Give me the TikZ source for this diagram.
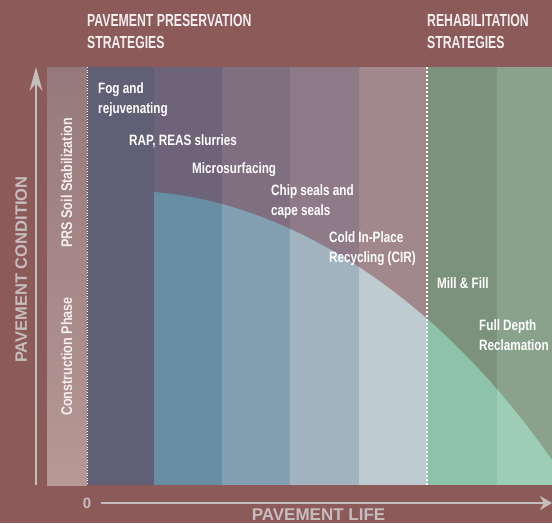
\documentclass[tikz,border=0pt]{standalone}
\usepackage{fontspec}
\usetikzlibrary{arrows.meta}
\newfontfamily\headfont[FakeStretch=0.70]{Liberation Sans}
\newfontfamily\labelfont[FakeStretch=0.78]{Liberation Sans}
\newfontfamily\sidefont[FakeStretch=0.81]{Liberation Sans}
\newfontfamily\axisfont{Liberation Sans}
\definecolor{bgred}{RGB}{139,90,89}
\definecolor{axisgrey}{RGB}{198,190,190}
\definecolor{headwhite}{RGB}{244,238,238}
\definecolor{buildtop}{RGB}{150,121,122}
\definecolor{buildbot}{RGB}{182,152,148}
\definecolor{colA}{RGB}{96,95,118}
\definecolor{colB}{RGB}{110,100,122}
\definecolor{colC}{RGB}{127,111,129}
\definecolor{colD}{RGB}{143,123,135}
\definecolor{colE}{RGB}{162,136,140}
\definecolor{colF}{RGB}{125,146,124}
\definecolor{colG}{RGB}{138,161,139}
\definecolor{lowB}{RGB}{104,142,164}
\definecolor{lowC}{RGB}{130,160,178}
\definecolor{lowD}{RGB}{160,179,191}
\definecolor{lowE}{RGB}{190,203,209}
\definecolor{lowF}{RGB}{140,195,170}
\definecolor{lowG}{RGB}{157,205,181}
\begin{document}
\begin{tikzpicture}[x=1pt,y=1pt]
\tikzstyle{every node}+=[inner sep=0pt]
\tikzstyle{heading}=[anchor=base west, align=left, text=headwhite, font=\headfont\bfseries\fontsize{17.5}{22}\selectfont]
\tikzstyle{strategy}=[anchor=base west, align=left, text=white, font=\labelfont\bfseries\fontsize{15}{19.5}\selectfont]
\tikzstyle{phase}=[anchor=base west, rotate=90, text=headwhite, font=\sidefont\bfseries\fontsize{15.5}{18}\selectfont]
\tikzstyle{axistext}=[text=axisgrey, font=\axisfont\bfseries\fontsize{17}{20}\selectfont]
\tikzstyle{axisline}=[axisgrey, line width=1.3pt]
\useasboundingbox (0,0) rectangle (552,-523);
\fill [bgred] (0,0) rectangle (552,-523);
% columns above the curve
\shade [top color=buildtop, bottom color=buildbot] (47,-67) rectangle (87,-485);
\fill [colA] (87,-67) rectangle (154,-485);
\fill [colB] (154,-67) rectangle (222,-485);
\fill [colC] (222,-67) rectangle (290,-485);
\fill [colD] (290,-67) rectangle (359,-485);
\fill [colE] (359,-67) rectangle (427,-485);
\fill [colF] (427,-67) rectangle (497,-485);
\fill [colG] (497,-67) rectangle (552,-485);
% area under the condition curve
\begin{scope}
\clip (154,-485) -- (154,-192) .. controls (280,-202) and (430,-285) .. (552,-460) -- (552,-485) -- cycle;
\fill [lowB] (154,-67) rectangle (222,-485);
\fill [lowC] (222,-67) rectangle (290,-485);
\fill [lowD] (290,-67) rectangle (359,-485);
\fill [lowE] (359,-67) rectangle (427,-485);
\fill [lowF] (427,-67) rectangle (497,-485);
\fill [lowG] (497,-67) rectangle (552,-485);
\end{scope}
% dotted dividers
\draw [white, line width=0.9pt, dash pattern=on 1pt off 1.6pt] (87,-67) -- (87,-485);
\draw [white, line width=1.8pt, dash pattern=on 2pt off 2pt] (427,-67) -- (427,-485);
% axes
\coordinate (yfoot) at (36,-485);
\coordinate (ytip) at (36,-67);
\coordinate (xfoot) at (101,-503);
\coordinate (xtip) at (552,-503);
\draw [axisline, -{Stealth[length=24pt,width=13pt]}] (yfoot) -- (ytip);
\draw [axisline, -{Stealth[length=12pt,width=14pt]}] (xfoot) -- (xtip);
\node [axistext, anchor=base] (zero) at (87,-508.5) {\fontsize{15}{18}\selectfont 0};
\node [axistext, anchor=base] (life) at (318.5,-520) {PAVEMENT LIFE};
\node [axistext, anchor=base west, rotate=90] (cond) at (27,-363) {\fontsize{16.5}{20}\selectfont PAVEMENT CONDITION};
% headings
\node [heading] (preserve) at (87,-48) {PAVEMENT PRESERVATION\\STRATEGIES};
\node [heading] (rehab) at (427,-48) {REHABILITATION\\STRATEGIES};
% phases
\node [phase] (soil) at (72,-248) {PRS Soil Stabilization};
\node [phase] (build) at (72,-416) {Construction Phase};
% treatments
\node [strategy] (fog) at (98,-113) {Fog and\\rejuvenating};
\node [strategy] (rap) at (129,-145) {RAP, REAS slurries};
\node [strategy] (micro) at (192,-173) {Microsurfacing};
\node [strategy] (chip) at (271,-215) {Chip seals and\\cape seals};
\node [strategy] (cir) at (329,-262) {Cold In-Place\\Recycling (CIR)};
\node [strategy] (mill) at (437,-288) {Mill \& Fill};
\node [strategy] (fdr) at (479,-350) {Full Depth\\Reclamation};
\end{tikzpicture}
\end{document}
